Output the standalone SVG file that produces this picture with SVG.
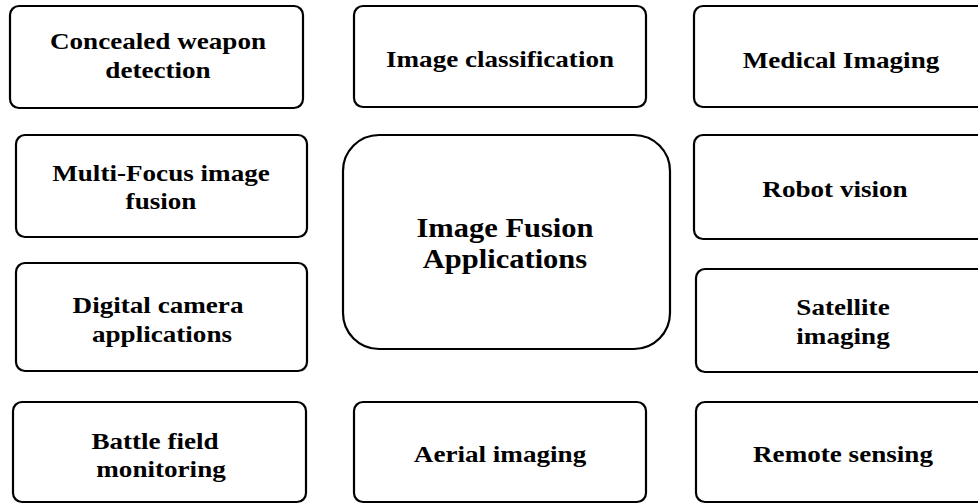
<svg xmlns="http://www.w3.org/2000/svg" width="978" height="504" viewBox="0 0 978 504">
<style>
.box{fill:#fff;stroke:#000;stroke-width:2.2}
.t{font-family:"Liberation Serif","Times New Roman",serif;font-weight:bold;font-size:24px;fill:#000;text-anchor:middle}
.c{font-size:28px}
</style>
<rect width="978" height="504" fill="#fff"/>
<g id="connectors"/>
<g id="n-concealed"><rect class="box" x="10" y="6" width="293" height="102" rx="9"/><text class="t" transform="translate(158,49) scale(1.13,1)">Concealed weapon</text><text class="t" transform="translate(158,78) scale(1.13,1)">detection</text></g>
<g id="n-classification"><rect class="box" x="354" y="6" width="292" height="101" rx="9"/><text class="t" transform="translate(500,67) scale(1.13,1)">Image classification</text></g>
<g id="n-medical"><rect class="box" x="694" y="6" width="300" height="101" rx="9"/><text class="t" transform="translate(841,68) scale(1.13,1)">Medical Imaging</text></g>
<g id="n-multifocus"><rect class="box" x="16" y="135" width="291" height="102" rx="9"/><text class="t" transform="translate(161,181) scale(1.13,1)">Multi-Focus image</text><text class="t" transform="translate(161,209) scale(1.13,1)">fusion</text></g>
<g id="n-center"><rect class="box" x="343" y="135" width="327" height="214" rx="36"/><text class="t c" transform="translate(505,237) scale(1.09,1)">Image Fusion</text><text class="t c" transform="translate(505,268) scale(1.09,1)">Applications</text></g>
<g id="n-robot"><rect class="box" x="694" y="135" width="300" height="104" rx="9"/><text class="t" transform="translate(835,197) scale(1.13,1)">Robot vision</text></g>
<g id="n-digital"><rect class="box" x="16" y="263" width="291" height="108" rx="9"/><text class="t" transform="translate(158,313) scale(1.13,1)">Digital camera</text><text class="t" transform="translate(162,342) scale(1.13,1)">applications</text></g>
<g id="n-satellite"><rect class="box" x="696" y="269" width="300" height="103" rx="9"/><text class="t" transform="translate(843,315) scale(1.13,1)">Satellite</text><text class="t" transform="translate(843,344) scale(1.13,1)">imaging</text></g>
<g id="n-battle"><rect class="box" x="13" y="402" width="293" height="100" rx="9"/><text class="t" transform="translate(155,449) scale(1.13,1)">Battle field</text><text class="t" transform="translate(161,477) scale(1.13,1)">monitoring</text></g>
<g id="n-aerial"><rect class="box" x="354" y="402" width="292" height="100" rx="9"/><text class="t" transform="translate(500,462) scale(1.13,1)">Aerial imaging</text></g>
<g id="n-remote"><rect class="box" x="696" y="402" width="300" height="100" rx="9"/><text class="t" transform="translate(843,462) scale(1.13,1)">Remote sensing</text></g>
</svg>
